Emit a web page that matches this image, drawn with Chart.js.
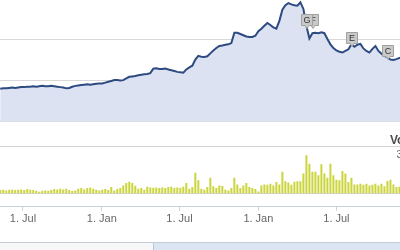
<!DOCTYPE html>
<html>
<head>
<meta charset="utf-8">
<script src="https://cdn.jsdelivr.net/npm/chart.js@4/dist/chart.umd.min.js"></script>
<style>
  html, body { margin: 0; padding: 0; background: #fff; overflow: hidden; }
  body { width: 400px; height: 250px; position: relative; font-family: "Liberation Sans", Arial, sans-serif; }
  #wrap { position: absolute; left: 0; top: -20px; width: 426px; height: 248px; }
  #nav { position: absolute; left: 0; top: 242px; width: 400px; height: 8px; border-top: 1px solid #c4ccd6; background: #f7f7f7; }
  #navSel { position: absolute; left: 153px; top: 0; right: 0; bottom: 0; background: #dbe5f4; border-left: 1px solid #b9c7da; }
</style>
</head>
<body>
<div id="wrap"><canvas id="chart"></canvas></div>
<div id="nav"><div id="navSel"></div></div>
<script>
const DAY = 86400000;

// weekly closes, May 2010 .. Jan 2013
const price = [
  380, 381, 381, 382, 383, 382, 383, 384, 384, 385,
  385, 386, 385, 386, 387, 386, 386, 387, 386, 385,
  384, 383, 381, 382, 385, 387, 388, 389, 390, 391,
  390, 391, 392, 393, 393, 395, 397, 399, 401, 401,
  400, 401, 405, 409, 410, 411, 413, 414, 415, 416,
  418, 429, 430, 428, 428, 429, 427, 425, 423, 421,
  420, 419, 427, 432, 436, 451, 460, 458, 457, 459,
  466, 473, 479, 484, 485, 487, 488, 491, 516, 516,
  513, 510, 507, 506, 506, 509, 520, 526, 533, 540,
  535, 529, 526, 545, 572, 583, 588, 585, 583, 582,
  590, 574, 533, 502, 515, 516, 515, 517, 515, 501,
  488, 479, 473, 470, 468, 472, 476, 488, 482, 487,
  489, 478, 472, 468, 477, 484, 472, 465, 460, 456,
  451, 450, 452, 455, 456, 454, 452, 455, 457, 455,
  452
];

// weekly volume (millions)
const volume = [
  24, 26, 21, 26, 27, 24, 26, 27, 24, 30,
  26, 24, 19, 13, 19, 21, 19, 24, 30, 27,
  32, 27, 32, 24, 17, 21, 32, 36, 27, 36,
  40, 32, 26, 21, 26, 30, 24, 43, 21, 32,
  36, 53, 68, 77, 68, 51, 32, 36, 26, 45,
  40, 38, 40, 36, 40, 36, 43, 45, 36, 40,
  38, 45, 68, 32, 43, 134, 85, 32, 26, 43,
  102, 47, 36, 53, 49, 26, 21, 36, 102, 59,
  36, 53, 68, 43, 36, 30, 15, 53, 59, 57,
  64, 53, 75, 59, 139, 79, 72, 57, 77, 79,
  79, 128, 244, 191, 139, 139, 117, 187, 128, 102,
  191, 117, 89, 85, 145, 128, 75, 102, 59, 59,
  64, 57, 64, 53, 57, 64, 53, 64, 47, 81,
  89, 59, 43, 45, 51, 38, 57, 45, 51, 38,
  45
];

const firstWeek = Date.UTC(2010, 4, 9);
const weekDates = price.map((_, i) => firstWeek + i * 7 * DAY);

const tickDates = [Date.UTC(2010, 6, 1), Date.UTC(2011, 0, 1), Date.UTC(2011, 6, 1), Date.UTC(2012, 0, 1), Date.UTC(2012, 6, 1)];
const tickLabels = ['1. Jul', '1. Jan', '1. Jul', '1. Jan', '1. Jul'];

const priceGrid = [300, 400, 500, 600];
const volGrid = [0, 300];

// event flags: week index + letter (F sits behind G)
const flagWeeks = [102, 102, 117, 129];
const flagTitles = ['F', 'G', 'E', 'C'];

const viewStart = Date.UTC(2010, 4, 8, 12);
const viewEnd = Date.UTC(2013, 0, 16, 14);

const flagPlugin = {
  id: 'flags',
  afterDatasetsDraw(chart) {
    const { ctx, scales } = chart;
    ctx.save();
    ctx.font = '9px "Liberation Sans", Arial, sans-serif';
    ctx.textAlign = 'center';
    ctx.textBaseline = 'middle';
    flagWeeks.forEach((w, k) => {
      let px = scales.x.getPixelForValue(weekDates[w]);
      const py = scales.y.getPixelForValue(price[w]);
      if (k === 0) px += 6;
      const s = 11;
      const bx = Math.round(px - s / 2) + 0.5;
      const by = Math.round(py - s - 1) + 0.5;
      ctx.fillStyle = '#c9c9c9';
      ctx.strokeStyle = '#a0a0a0';
      ctx.lineWidth = 1;
      ctx.beginPath();
      ctx.moveTo(bx, by);
      ctx.lineTo(bx + s, by);
      ctx.lineTo(bx + s, by + s);
      ctx.lineTo(bx + s / 2 + 2, by + s);
      ctx.lineTo(bx + s / 2, by + s + 3);
      ctx.lineTo(bx + s / 2 - 2, by + s);
      ctx.lineTo(bx, by + s);
      ctx.closePath();
      ctx.fill();
      ctx.stroke();
      ctx.fillStyle = '#333';
      ctx.fillText(flagTitles[k], bx + s / 2, by + s / 2 + 0.5);
    });
    ctx.restore();
  }
};

const volTitle = {
  id: 'volTitle',
  afterDraw(chart) {
    const { ctx, chartArea, scales } = chart;
    const y = scales.vol.getPixelForValue(volGrid[1]);
    ctx.save();
    ctx.font = 'bold 12px "Liberation Sans", Arial, sans-serif';
    ctx.fillStyle = '#4d4d4d';
    ctx.textAlign = 'left';
    ctx.fillText('Volume', chartArea.right - 32, y - 3);
    ctx.restore();
  }
};

new Chart(document.getElementById('chart'), {
  type: 'bar',
  data: {
    datasets: [{
      type: 'line',
      label: 'Price',
      yAxisID: 'y',
      data: weekDates.map((d, i) => ({ x: d, y: price[i] })),
      borderColor: '#2d4b80',
      borderWidth: 2,
      backgroundColor: '#dce2f2',
      fill: 'start',
      pointRadius: 0,
      tension: 0
    }, {
      type: 'bar',
      label: 'Volume',
      yAxisID: 'vol',
      data: weekDates.map((d, i) => ({ x: d, y: volume[i] })),
      backgroundColor: '#cbd43a',
      barPercentage: 0.66,
      categoryPercentage: 1
    }]
  },
  options: {
    responsive: true,
    maintainAspectRatio: false,
    animation: false,
    events: [],
    layout: { padding: { top: 10, right: 0, bottom: 0, left: 0 } },
    plugins: { legend: { display: false }, tooltip: { enabled: false } },
    scales: {
      x: {
        type: 'linear',
        min: viewStart,
        max: viewEnd,
        offset: false,
        afterBuildTicks: s => { s.ticks = tickDates.map(v => ({ value: v })); },
        ticks: {
          callback: (v, i) => tickLabels[i],
          color: '#666',
          font: { family: '"Liberation Sans", Arial, sans-serif', size: 11 },
          padding: 2,
          maxRotation: 0,
          autoSkip: false
        },
        grid: { drawOnChartArea: false, tickLength: 4, color: '#c8d2dc', offset: false },
        border: { color: '#c8d2dc' }
      },
      y: {
        stack: 'pane',
        stackWeight: 131.2,
        position: 'right',
        min: 300,
        max: 620,
        afterBuildTicks: s => { s.ticks = priceGrid.map(v => ({ value: v })); },
        ticks: { display: false },
        grid: { color: '#d9d9d9', drawTicks: false },
        border: { display: false }
      },
      vol: {
        stack: 'pane',
        stackWeight: 84.8,
        position: 'right',
        min: -83,
        max: 458,
        afterBuildTicks: s => { s.ticks = volGrid.map(v => ({ value: v })); },
        ticks: {
          mirror: true,
          padding: 2,
          labelOffset: 8,
          color: '#666',
          font: { family: '"Liberation Sans", Arial, sans-serif', size: 11 },
          callback: v => v ? v + 'M' : '0'
        },
        grid: { color: '#d4d4d4', drawTicks: false },
        border: { display: false }
      }
    }
  },
  plugins: [flagPlugin, volTitle]
});
</script>
</body>
</html>
